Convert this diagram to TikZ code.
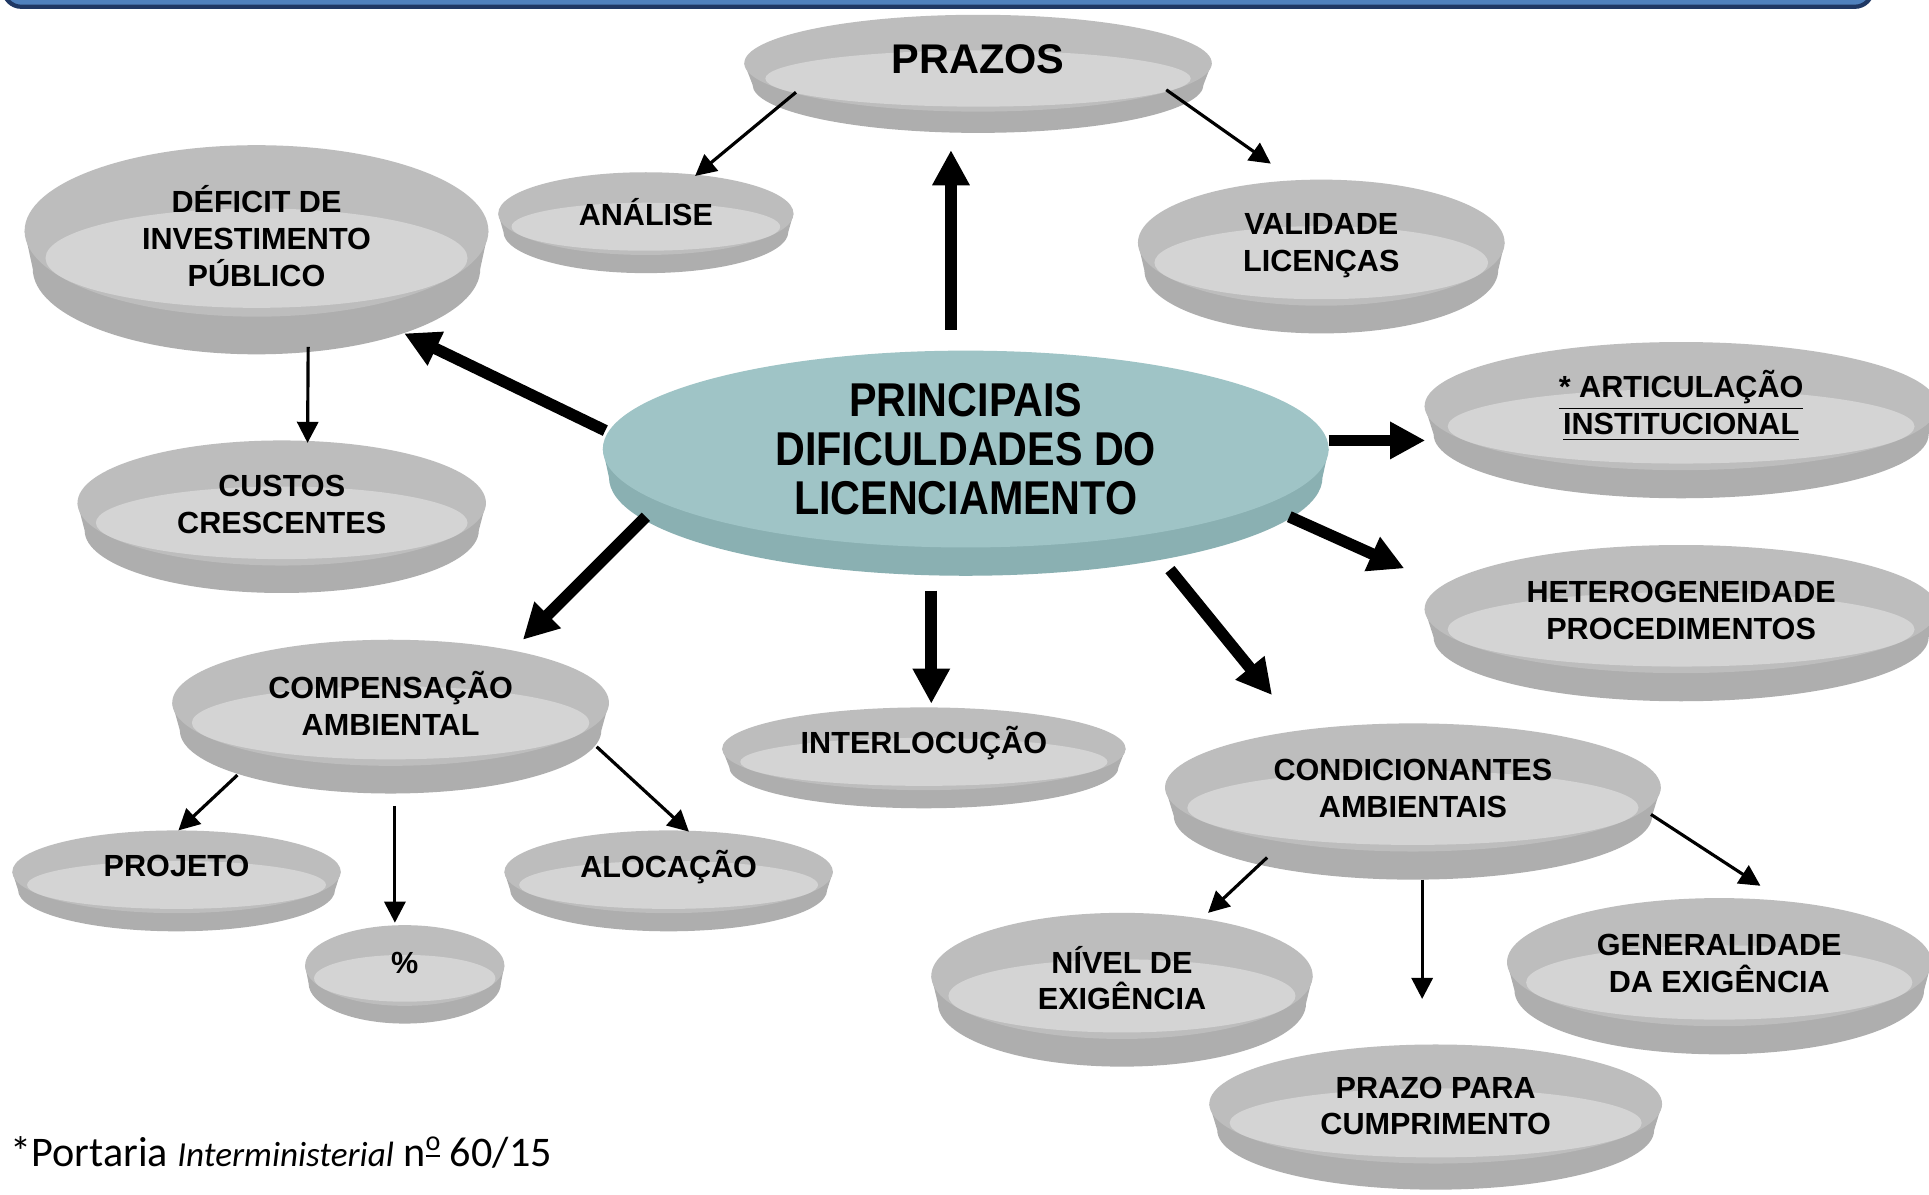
\documentclass[tikz,border=0pt]{standalone}
\usepackage{fontspec}
\setmainfont{Liberation Sans}
\newfontfamily\hubfont[FakeStretch=0.87]{Liberation Sans}
\newfontfamily\notefont{Carlito}
\usetikzlibrary{arrows.meta}
\definecolor{dishrim}{HTML}{BDBDBD}
\definecolor{dishfloor}{HTML}{D4D4D4}
\definecolor{dishwall}{HTML}{AEAEAE}
\definecolor{hubtop}{HTML}{9FC4C6}
\definecolor{hubwall}{HTML}{8AB0B2}
\definecolor{barblue}{HTML}{4F81BD}
\definecolor{bardark}{HTML}{1F3864}
\tikzset{
  lbl/.style={inner sep=0pt, align=center, font=\bfseries\fontsize{8.7}{10.5}\selectfont},
  thinarrow/.style={line width=0.9pt, -{Triangle[width=6pt,length=6pt]}},
  thickarrow/.style={line width=3.3pt, -{Triangle[width=10pt,length=10pt]}},
}
% name, x1, x2, y1, y2, text y, text
\newcommand\dish[7]{%
  \pgfmathsetmacro\dcx{(#2+#3)/2}%
  \pgfmathsetmacro\drx{(#3-#2)/2}%
  \pgfmathsetmacro\dH{#5-#4}%
  \pgfmathsetmacro\dry{0.41*\dH}%
  \pgfmathsetmacro\dcy{#4+\dry}%
  \pgfmathsetmacro\dwy{\dcy+0.18*\dH}%
  \pgfmathsetmacro\dwrx{0.965*\drx}%
  \pgfmathsetmacro\dfy{\dcy+0.13*\dH}%
  \pgfmathsetmacro\dfrx{0.91*\drx}%
  \pgfmathsetmacro\dfry{0.58*\dry}%
  \fill[dishwall] (\dcx-\drx,\dcy) -- (\dcx-\dwrx,\dwy)
     arc[start angle=180,end angle=0,x radius=\dwrx,y radius=\dry]
     -- (\dcx+\drx,\dcy) -- cycle;
  \fill[dishrim] (\dcx,\dcy) ellipse[x radius=\drx,y radius=\dry];
  \fill[dishfloor] (\dcx,\dfy) ellipse[x radius=\dfrx,y radius=\dfry];
  \node[lbl] (#1) at (\dcx,#6) {#7};
}
\newcommand\ordmark{\raisebox{0.38em}{\fontsize{8}{9}\selectfont\underline{o}}}
\begin{document}
\begin{tikzpicture}[x=0.12302mm,y=-0.12302mm]
\useasboundingbox (0,0) rectangle (1568,971);
\fill[white] (0,0) rectangle (1568,971);
\draw[fill=barblue, draw=bardark, line width=1.2pt, rounded corners=5pt] (3,-20) rectangle (1522,5.5);

\dish{prazos}{605}{985}{12}{108}{48}{\fontsize{11.8}{14}\selectfont PRAZOS}
\dish{analise}{405}{645}{140}{222}{172}{ANÁLISE}
\dish{validade}{925}{1223}{146}{271}{199.5}{VALIDADE\\LICENÇAS}
\dish{deficit}{20}{397}{118}{288}{192}{DÉFICIT DE\\INVESTIMENTO\\PÚBLICO}
\dish{custos}{63}{395}{358}{482}{410}{CUSTOS\\CRESCENTES}
\dish{artic}{1158}{1575}{278}{405}{330}{\underline{* ARTICULAÇÃO}\\\underline{INSTITUCIONAL}}
\dish{hetero}{1158}{1575}{443}{570}{496}{HETEROGENEIDADE\\PROCEDIMENTOS}
\dish{compens}{140}{495}{520}{645}{572}{COMPENSAÇÃO\\AMBIENTAL}
\dish{interloc}{587}{915}{575}{657}{604}{INTERLOCUÇÃO}
\dish{condic}{947}{1350}{588}{715}{641}{CONDICIONANTES\\AMBIENTAIS}
\dish{projeto}{10}{277}{675}{757}{704}{PROJETO}
\dish{pct}{248}{410}{752}{832}{783}{\%}
\dish{alocacao}{410}{677}{675}{757}{705}{ALOCAÇÃO}
\dish{nivel}{757}{1067}{742}{867}{795}{NÍVEL DE\\EXIGÊNCIA}
\dish{general}{1225}{1570}{730}{857}{783}{GENERALIDADE\\DA EXIGÊNCIA}
\dish{prazopara}{983}{1351}{849}{967}{899}{PRAZO PARA\\CUMPRIMENTO}

% central hub
\fill[hubwall] (490,365) -- (495,388) arc[start angle=180,end angle=0,x radius=290,y radius=80] -- (1080,365) -- cycle;
\fill[hubtop] (785,365) ellipse[x radius=295,y radius=80];
\node[inner sep=0pt, align=center, font=\hubfont\bfseries\fontsize{13.5}{14}\selectfont] (hub) at (785,365) {PRINCIPAIS\\DIFICULDADES DO\\LICENCIAMENTO};

% thick arrows from hub
\draw[thickarrow] ([shift={(-12,-97)}]hub.center) -- ([shift={(-22,74)}]prazos.center);
\draw[thickarrow] ([shift={(-293,-15)}]hub.center) -- ([shift={(120,79)}]deficit.center);
\draw[thickarrow] ([shift={(-260,55)}]hub.center) -- ([shift={(107.5,-52)}]compens.center);
\draw[thickarrow] ([shift={(-28,115)}]hub.center) -- ([shift={(6,-32)}]interloc.center);
\draw[thickarrow] ([shift={(166,98)}]hub.center) -- ([shift={(-114.5,-76)}]condic.center);
\draw[thickarrow] ([shift={(295,-7)}]hub.center) -- ([shift={(-208,28)}]artic.center);
\draw[thickarrow] ([shift={(263,55)}]hub.center) -- ([shift={(-225,-34)}]hetero.center);

% thin arrows
\draw[thinarrow] ([shift={(-148,27)}]prazos.center) -- ([shift={(40,-29)}]analise.center);
\draw[thinarrow] ([shift={(153,25)}]prazos.center) -- ([shift={(-41,-66.5)}]validade.center);
\draw[thinarrow] ([shift={(42,90)}]deficit.center) -- ([shift={(21,-50)}]custos.center);
\draw[thinarrow] ([shift={(-124.5,58)}]compens.center) -- ([shift={(1.5,-29)}]projeto.center);
\draw[thinarrow] ([shift={(3.5,83)}]compens.center) -- ([shift={(-8,-33)}]pct.center);
\draw[thinarrow] ([shift={(167.5,35)}]compens.center) -- ([shift={(16.5,-29)}]alocacao.center);
\draw[thinarrow] ([shift={(-118.5,56)}]condic.center) -- ([shift={(70,-53)}]nivel.center);
\draw[thinarrow] ([shift={(7.5,74)}]condic.center) -- ([shift={(-11,-87)}]prazopara.center);
\draw[thinarrow] ([shift={(193.5,21)}]condic.center) -- ([shift={(33.5,-63)}]general.center);

\node[anchor=west, inner sep=0pt, font=\notefont\fontsize{12}{14}\selectfont] (note) at (8,937)
  {*Portaria {\itshape\fontsize{10}{12}\selectfont Interministerial} n\ordmark\ 60/15};
\end{tikzpicture}
\end{document}
